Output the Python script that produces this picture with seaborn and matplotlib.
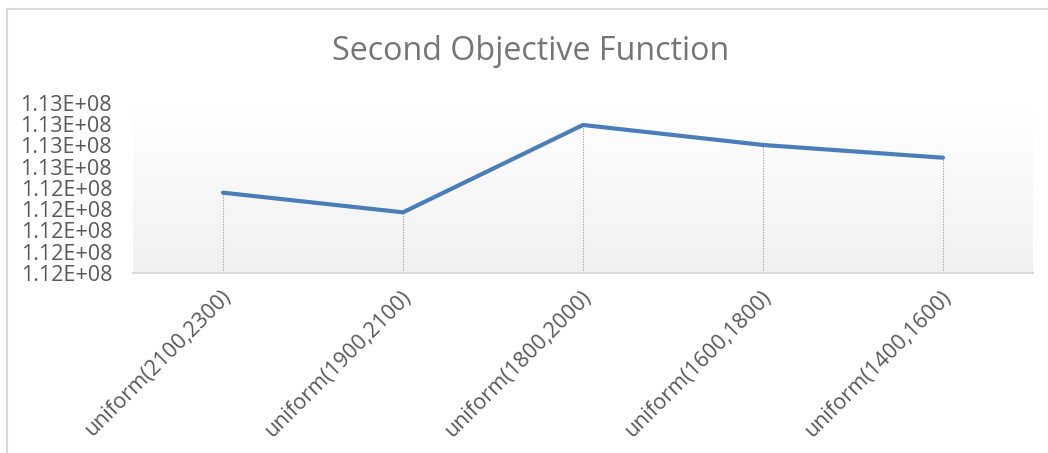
import matplotlib
matplotlib.use("Agg")
import matplotlib.pyplot as plt
import matplotlib.transforms as mtransforms
from matplotlib.lines import Line2D
from matplotlib.colors import LinearSegmentedColormap
import numpy as np
import pandas as pd
import seaborn as sns

# ---- data ----
categories = ["uniform(2100,2300)", "uniform(1900,2100)", "uniform(1800,2000)",
              "uniform(1600,1800)", "uniform(1400,1600)"]
values = [112495600, 112477100, 112559300, 112540500, 112528500]
ytick_values = [112420000, 112440000, 112460000, 112480000, 112500000,
                112520000, 112540000, 112560000, 112580000]
ytick_labels = ["1.12E+08", "1.12E+08", "1.12E+08", "1.12E+08", "1.12E+08",
                "1.13E+08", "1.13E+08", "1.13E+08", "1.13E+08"]
title = "Second Objective Function"

sns.set_style("white")
plt.rcParams["font.family"] = ["Open Sans", "DejaVu Sans"]

W, H = 1048, 453
fig = plt.figure(figsize=(W / 100, H / 100), dpi=100)
ax = fig.add_axes([133 / W, 1 - 273 / H, 900 / W, 170 / H])

df = pd.DataFrame({"scenario": categories, "value": values})

# gradient background of plot area (white at top, light grey at bottom)
grad = np.linspace(0.0, 1.0, 256).reshape(-1, 1)
cmap = LinearSegmentedColormap.from_list("g", ["#f1f1f1", "#ffffff"])
ax.imshow(grad, extent=[0, 1, 0, 1], transform=ax.transAxes, aspect="auto",
          cmap=cmap, zorder=0, origin="lower")

sns.lineplot(data=df, x="scenario", y="value", sort=False, ax=ax,
             color="#4a7ebb", linewidth=3.0, solid_capstyle="round",
             solid_joinstyle="round", zorder=3)

ax.set_xlim(-0.5, len(categories) - 0.5)
ax.set_ylim(ytick_values[0], ytick_values[-1])

# drop lines
ax.vlines(range(len(categories)), ytick_values[0], values,
          colors="#a6a6a6", linestyles=(0, (1.2, 1.2)), linewidth=0.8, zorder=2)

for s in ["top", "right", "left"]:
    ax.spines[s].set_visible(False)
ax.spines["bottom"].set_color("#d9d9d9")
ax.spines["bottom"].set_linewidth(1.5)
ax.spines["bottom"].set_zorder(4)

ax.set_yticks(ytick_values)
ax.set_yticklabels(ytick_labels)
ax.set_xticks(range(len(categories)))
ax.set_xticklabels(categories)
ax.tick_params(axis="y", length=0, pad=15, labelsize=15.5, labelcolor="#595959")
ax.tick_params(axis="x", length=0, pad=15, labelsize=15.5, labelcolor="#595959")
for lab in ax.get_xticklabels():
    lab.set_rotation(45)
    lab.set_ha("right")
    lab.set_va("center")
    lab.set_rotation_mode("anchor")
    lab.set_transform(lab.get_transform() +
                      mtransforms.ScaledTranslation(0.05, 0, fig.dpi_scale_trans))
ax.set_xlabel("")
ax.set_ylabel("")
ax.grid(False)

fig.text(531 / W, 1 - 51 / H, title, ha="center", va="center",
         fontsize=23.2, color="#757575", fontweight="normal")

# chart border
fig.add_artist(Line2D([7 / W, 1.01], [1 - 9 / H, 1 - 9 / H], transform=fig.transFigure,
                      color="#d9d9d9", linewidth=1.5))
fig.add_artist(Line2D([7 / W, 7 / W], [1 - 9 / H, -0.01], transform=fig.transFigure,
                      color="#d9d9d9", linewidth=1.5))

fig.savefig("out.png", dpi=100, facecolor="white")
